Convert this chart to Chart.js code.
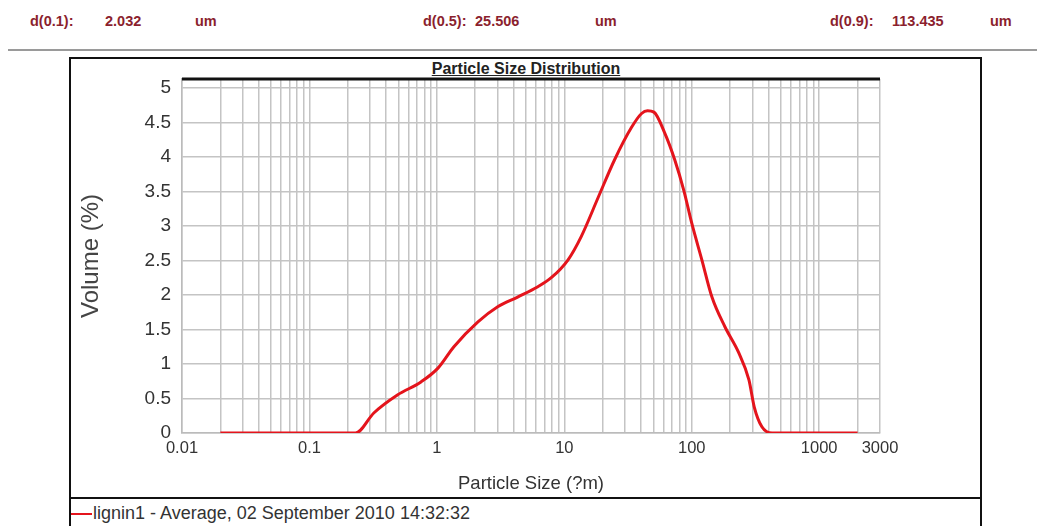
<!DOCTYPE html>
<html>
<head>
<meta charset="utf-8">
<script src="https://cdn.jsdelivr.net/npm/chart.js@4.4.1/dist/chart.umd.min.js"></script>
<style>
    body { margin: 0; background: #fff; width: 1037px; height: 526px; overflow: hidden; position: relative; font-family: 'Liberation Sans', Arial, sans-serif; }
    .hdr { position: absolute; top: 11px; color: #8b1f2e; font-weight: bold; font-size: 14.5px; line-height: 20px; }
    #rule { position: absolute; left: 8px; right: 0; top: 49px; height: 2px; background: #9a9a9a; }
    #box { position: absolute; left: 69px; top: 57px; width: 909px; height: 480px; border: 2px solid #111; }
    #sep { position: absolute; left: 69px; top: 497px; width: 911px; height: 2px; background: #111; }
    #title { position: absolute; left: 0; width: 1052px; top: 59px; text-align: center; font-weight: bold; font-size: 16px; line-height: 20px; text-decoration: underline; color: #222; }
    #legend { position: absolute; left: 93px; top: 503px; font-size: 18px; line-height: 20px; color: #333; }
    #legline { position: absolute; left: 71px; top: 513px; width: 21px; height: 2px; background: #e4141c; }
    canvas { position: absolute; left: 0; top: 0; }
</style>
</head>
<body>
<div class="hdr" style="left:30px">d(0.1):</div>
<div class="hdr" style="left:105px">2.032</div>
<div class="hdr" style="left:195px">um</div>
<div class="hdr" style="left:423px">d(0.5):</div>
<div class="hdr" style="left:475px">25.506</div>
<div class="hdr" style="left:595px">um</div>
<div class="hdr" style="left:830px">d(0.9):</div>
<div class="hdr" style="left:892px">113.435</div>
<div class="hdr" style="left:990px">um</div>
<div id="rule"></div>
<div id="box"></div>
<div id="sep"></div>
<div id="title">Particle Size Distribution</div>
<div id="legline"></div>
<div id="legend">lignin1 - Average, 02 September 2010 14:32:32</div>
<canvas id="psd" width="1037" height="526"></canvas>
<script>
// particle size (um) and volume (%)
const sizes = [0.02, 0.05, 0.1, 0.15, 0.23, 0.32, 0.49, 0.75, 1.02, 1.36,
    2.1, 3.0, 4.3, 6.2, 7.9, 10.7, 13.6, 18.5, 24.8, 33.7,
    40.4, 45, 50.5, 61.3, 73.5, 86.5, 100, 120, 144, 182,
    234, 281, 309, 355, 427, 600, 1000, 2000];
const volume = [0, 0, 0, 0, 0, 0.29, 0.55, 0.74, 0.94, 1.25,
    1.61, 1.83, 1.97, 2.12, 2.25, 2.51, 2.85, 3.42, 3.96, 4.43,
    4.63, 4.67, 4.65, 4.35, 3.96, 3.52, 3.04, 2.51, 1.97, 1.54,
    1.16, 0.77, 0.38, 0.09, 0, 0, 0, 0];

const xLabels = [0.01, 0.1, 1, 10, 100, 1000, 3000];
const xGrid = [0.01, 0.02, 0.03, 0.04, 0.05, 0.06, 0.07, 0.08, 0.09,
    0.1, 0.2, 0.3, 0.4, 0.5, 0.6, 0.7, 0.8, 0.9,
    1, 2, 3, 4, 5, 6, 7, 8, 9,
    10, 20, 30, 40, 50, 60, 70, 80, 90,
    100, 200, 300, 400, 500, 600, 700, 800, 900,
    1000, 2000, 3000];
const yTicks = [0, 0.5, 1, 1.5, 2, 2.5, 3, 3.5, 4, 4.5, 5];

const font = "'Liberation Sans', Arial, sans-serif";

// thick black line along the top of the plot
const topLine = {
    id: 'topLine',
    beforeDatasetsDraw(chart) {
        const { ctx, chartArea } = chart;
        ctx.save();
        ctx.strokeStyle = '#111';
        ctx.lineWidth = 3;
        ctx.beginPath();
        ctx.moveTo(chartArea.left, chartArea.top);
        ctx.lineTo(chartArea.right, chartArea.top);
        ctx.stroke();
        ctx.restore();
    }
};

new Chart(document.getElementById('psd').getContext('2d'), {
    type: 'scatter',
    data: {
        datasets: [{
            label: 'lignin1',
            data: sizes.map((s, i) => ({ x: s, y: volume[i] })),
            showLine: true,
            borderColor: '#e4141c',
            borderWidth: 3,
            pointRadius: 0,
            cubicInterpolationMode: 'monotone'
        }]
    },
    options: {
        responsive: false,
        animation: false,
        devicePixelRatio: 1,
        layout: { padding: { left: 72, top: 79, right: 157, bottom: 0 } },
        plugins: { legend: { display: false }, tooltip: { enabled: false } },
        scales: {
            x: {
                type: 'logarithmic',
                min: 0.01,
                max: 3000,
                afterBuildTicks: scale => { scale.ticks = xGrid.map(v => ({ value: v })); },
                afterFit: scale => { scale.height = 93; },
                ticks: {
                    autoSkip: false,
                    maxRotation: 0,
                    padding: 6,
                    color: '#333',
                    font: { family: font, size: 16.5 },
                    callback: v => xLabels.includes(v) ? String(v) : ''
                },
                grid: { color: '#c4c4c4', lineWidth: 1.5, drawTicks: false },
                border: { color: '#bbb', width: 1.5 },
                title: {
                    display: true,
                    text: 'Particle Size (?m)',
                    color: '#333',
                    font: { family: font, size: 18.5 },
                    padding: { top: 0, bottom: 31 }
                }
            },
            y: {
                min: 0,
                max: 5.13,
                afterBuildTicks: scale => { scale.ticks = yTicks.map(v => ({ value: v })); },
                afterFit: scale => { scale.width = 110; },
                ticks: {
                    padding: 11,
                    color: '#333',
                    font: { family: font, size: 19 },
                    callback: v => String(v)
                },
                grid: { color: '#c4c4c4', lineWidth: 1.5, drawTicks: false },
                border: { color: '#bbb', width: 1.5 },
                title: {
                    display: true,
                    text: 'Volume (%)',
                    color: '#444',
                    font: { family: font, size: 24 },
                    padding: { top: 5, bottom: 0 }
                }
            }
        }
    },
    plugins: [topLine]
});
</script>
</body>
</html>
